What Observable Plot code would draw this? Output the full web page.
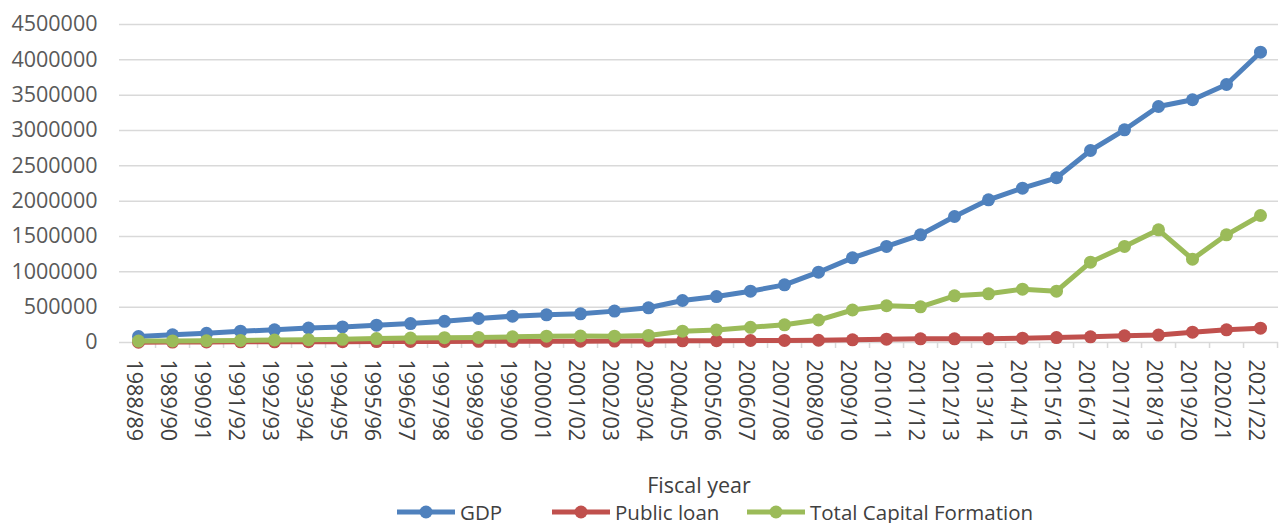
<!DOCTYPE html>
<html><head><meta charset="utf-8">
<script src="https://cdn.jsdelivr.net/npm/d3@7"></script>
<script src="https://cdn.jsdelivr.net/npm/@observablehq/plot@0.6"></script>
<style>
body{margin:0;background:#fff;font-family:"Open Sans",sans-serif;overflow:hidden;}
#chart svg{display:block;}
#legend{position:relative;height:22px;margin-top:1px;font-size:20.5px;color:#404040;}
.item{position:absolute;top:0;display:flex;align-items:center;height:22px;line-height:22px;}
.item svg{margin-right:5px;}
</style></head><body><div id="chart"></div><div id="legend"></div>
<script>
const years = ["1988/89","1989/90","1990/91","1991/92","1992/93","1993/94","1994/95","1995/96","1996/97","1997/98","1998/99","1999/00","2000/01","2001/02","2002/03","2003/04","2004/05","2005/06","2006/07","2007/08","2008/09","2009/10","2010/11","2011/12","2012/13","1013/14","2014/15","2015/16","2016/17","2017/18","2018/19","2019/20","2020/21","2021/22"];
const gdp = [85000,110000,130000,160000,180000,205000,220000,245000,268000,300000,340000,372000,392000,406000,444000,491000,594000,650000,726000,816000,995000,1198000,1359000,1524000,1783000,2019000,2184000,2331000,2717000,3010000,3340000,3435000,3651000,4108000];
const publicLoan = [5000,6000,8000,9000,10000,11000,12000,13000,14000,15000,16000,17000,18000,19000,20000,22000,24000,26000,28000,30000,32000,38000,47000,52000,52000,52000,61000,70000,80000,95000,105000,146000,180000,203000];
const capitalFormation = [20000,22000,25000,30000,35000,40000,45000,55000,62000,68000,72000,80000,90000,92000,90000,100000,160000,178000,215000,250000,318000,460000,520000,505000,661000,689000,755000,726000,1137000,1359000,1595000,1179000,1524000,1797000];
const seriesNames = ["GDP","Public loan","Total Capital Formation"];
const seriesColors = ["#4f81bd","#c0504d","#9bbb59"];
const yTicks = d3.range(0, 4500001, 500000);

const seriesValues = [gdp, publicLoan, capitalFormation];
const data = [];
seriesNames.forEach((s, k) => years.forEach((y, i) => data.push({year: y, series: s, value: seriesValues[k][i]})));

const W = 1279, H = 500, ML = 119, MR = 1;
const step = (W - ML - MR) / years.length;

const seriesMarks = seriesNames.flatMap(s => {
  const d = data.filter(r => r.series === s);
  return [
    Plot.line(d, {x: "year", y: "value", stroke: "series", strokeWidth: 5}),
    Plot.dot(d, {x: "year", y: "value", fill: "series", r: 6.5})
  ];
});

const plot = Plot.plot({
  width: W, height: H, marginLeft: ML, marginRight: MR, marginTop: 24, marginBottom: 158,
  style: {fontFamily: "Open Sans", fontSize: "21px", color: "#595959", background: "#fff", overflow: "visible"},
  x: {type: "point", domain: years, padding: 0.5, label: null},
  y: {domain: [0, 4500000], label: null},
  color: {domain: seriesNames, range: seriesColors},
  marks: [
    Plot.gridY(yTicks, {stroke: "#d9d9d9", strokeOpacity: 1, strokeWidth: 1.5}),
    Plot.axisY(yTicks, {tickSize: 0, tickPadding: 22, tickFormat: d => String(d), label: null, fontSize: 21.5}),
    Plot.axisX({tickSize: 6, tickFormat: () => "", dx: step / 2, stroke: "#d9d9d9", strokeWidth: 1.5, label: null}),
    Plot.axisX({tickSize: 0, tickRotate: 90, tickPadding: 17, dx: -5, fontSize: 21.5, fill: "#404040", label: "Fiscal year", labelAnchor: "center", labelOffset: 150}),
    ...seriesMarks
  ]
});
document.getElementById("chart").appendChild(plot);

const legend = document.getElementById("legend");
const lefts = [397, 552, 747];
seriesNames.forEach((s, k) => {
  const it = document.createElement("div");
  it.className = "item";
  it.style.left = lefts[k] + "px";
  it.innerHTML = `<svg width="58" height="14"><line x1="0" x2="58" y1="7" y2="7" stroke="${seriesColors[k]}" stroke-width="5"/><circle cx="29" cy="7" r="6.5" fill="${seriesColors[k]}"/></svg><span>${s}</span>`;
  legend.appendChild(it);
});
</script>
</body></html>
